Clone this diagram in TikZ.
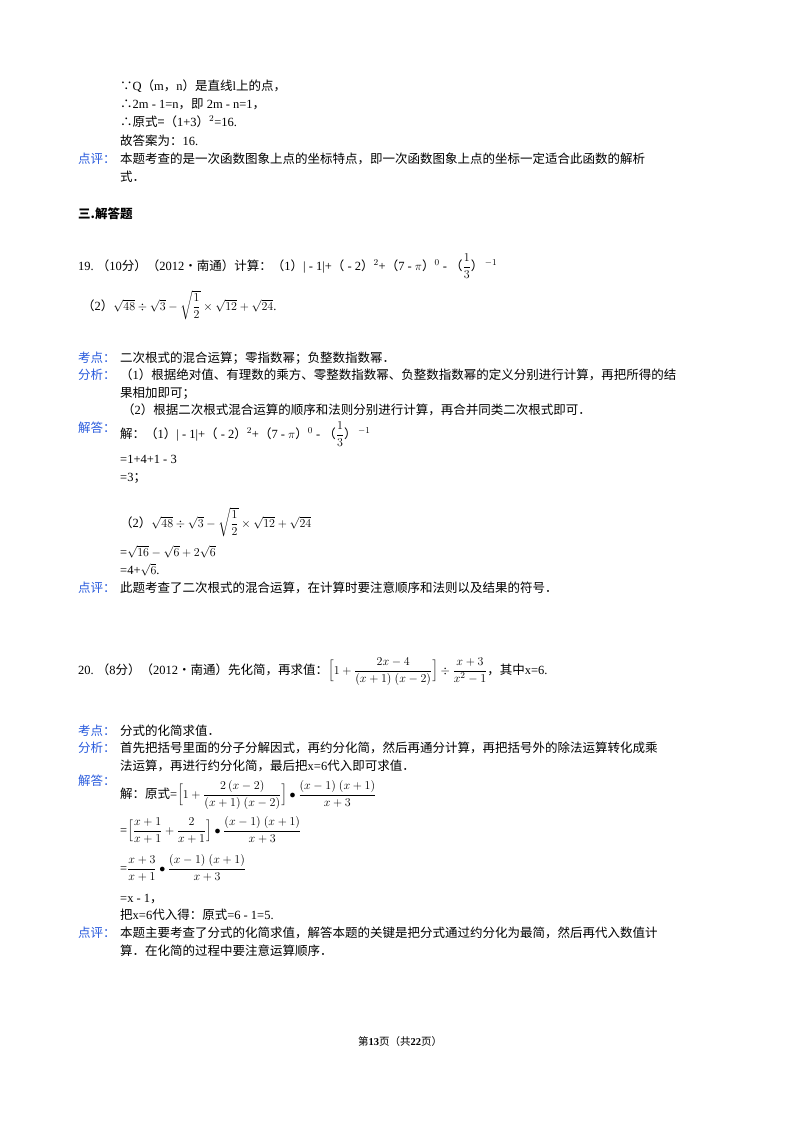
\documentclass[tikz,border=0pt]{standalone}
\usepackage{fontspec}
\usepackage{amsmath}
\setmainfont{Liberation Serif}
\newfontfamily\cjk{Noto Sans CJK SC}
\definecolor{lab}{RGB}{40,90,220}
\tikzset{t/.style={anchor=base west,inner sep=0pt,font=\fontsize{12.5}{14}\selectfont},
 lb/.style={t,text=lab}}
\newcommand{\C}[1]{{\cjk #1}}
\begin{document}
\begin{tikzpicture}[x=1pt,y=-1pt]
\useasboundingbox (0,0) rectangle (800,1132);
\node[t] (a1) at (120,90) {\C{∵}Q\C{（}m\C{，}n\C{）是直线}l\C{上的点，}};
\node[t] (a2) at (120,108) {\C{∴}2m - 1=n\C{，即} 2m - n=1\C{，}};
\node[t] (a3) at (120,126) {\C{∴原式=（}1+3\C{）}$^2$=16.};
\node[t] (a4) at (120,145) {\C{故答案为：}16.};
\node[lb] (p1) at (78,163) {\C{点评：}};
\node[t] (p1a) at (120,163) {\C{本题考查的是一次函数图象上点的坐标特点，即一次函数图象上点的坐标一定适合此函数的解析}};
\node[t] (p1b) at (120,181) {\C{式．}};
\node[t,font=\fontsize{12.5}{14}\selectfont\bfseries] (h) at (78,218) {\C{三.解答题}};
\node[t] (q19) at (78,270) {19.\ \C{（}10\C{分）（}2012\C{•南通）计算：（}1\C{）}| - 1|+\C{（} - 2\C{）}$^{2}$+\C{（}7 - $\pi$\C{）}$^{0}$ - \C{（}$\dfrac{1}{3}$\C{）}$^{\,-1}$};
\node[t] (q19b) at (82,310) {\C{（}2\C{）}$\sqrt{48}\div\sqrt{3}-\sqrt{\dfrac12}\times\sqrt{12}+\sqrt{24}$.};
\node[lb] (k1) at (78,362) {\C{考点：}};
\node[t] (k1a) at (120,362) {\C{二次根式的混合运算；零指数幂；负整数指数幂．}};
\node[lb] (f1) at (78,379) {\C{分析：}};
\node[t] (f1a) at (120,379) {\C{（}1\C{）根据绝对值、有理数的乘方、零整数指数幂、负整数指数幂的定义分别进行计算，再把所得的结}};
\node[t] (f1b) at (120,397) {\C{果相加即可；}};
\node[t] (f1c) at (122,414) {\C{（}2\C{）根据二次根式混合运算的顺序和法则分别进行计算，再合并同类二次根式即可．}};
\node[lb] (j1) at (78,432) {\C{解答：}};
\node[t] (j1a) at (120,438) {\C{解：（}1\C{）}| - 1|+\C{（} - 2\C{）}$^{2}$+\C{（}7 - $\pi$\C{）}$^{0}$ - \C{（}$\dfrac{1}{3}$\C{）}$^{\,-1}$};
\node[t] (j1b) at (120,463) {=1+4+1 - 3};
\node[t] (j1c) at (120,481) {=3\C{；}};
\node[t] (j1d) at (120,527) {\C{（}2\C{）}$\sqrt{48}\div\sqrt{3}-\sqrt{\dfrac12}\times\sqrt{12}+\sqrt{24}$};
\node[t] (j1e) at (120,556) {=$\sqrt{16}-\sqrt{6}+2\sqrt{6}$};
\node[t] (j1f) at (120,574) {=4+$\sqrt{6}$.};
\node[lb] (p2) at (78,592) {\C{点评：}};
\node[t] (p2a) at (120,592) {\C{此题考查了二次根式的混合运算，在计算时要注意顺序和法则以及结果的符号．}};
\node[t] (q20) at (78,674) {20.\ \C{（}8\C{分）（}2012\C{•南通）先化简，再求值：}$\Bigl[1+\dfrac{2x-4}{(x+1)\ (x-2)}\Bigr]\div\dfrac{x+3}{x^{2}-1}$\C{，其中}x=6.};
\node[lb] (k2) at (78,735) {\C{考点：}};
\node[t] (k2a) at (120,735) {\C{分式的化简求值．}};
\node[lb] (f2) at (78,752) {\C{分析：}};
\node[t] (f2a) at (120,752) {\C{首先把括号里面的分子分解因式，再约分化简，然后再通分计算，再把括号外的除法运算转化成乘}};
\node[t] (f2b) at (120,770) {\C{法运算，再进行约分化简，最后把}x=6\C{代入即可求值．}};
\node[lb] (j2) at (78,785) {\C{解答：}};
\node[t] (j2a) at (120,798) {\C{解：原式}=$\Bigl[1+\dfrac{2\,(x-2)}{(x+1)\ (x-2)}\Bigr]\bullet\dfrac{(x-1)\ (x+1)}{x+3}$};
\node[t] (j2b) at (120,834) {=$\Bigl[\dfrac{x+1}{x+1}+\dfrac{2}{x+1}\Bigr]\bullet\dfrac{(x-1)\ (x+1)}{x+3}$};
\node[t] (j2c) at (120,872) {=$\dfrac{x+3}{x+1}\bullet\dfrac{(x-1)\ (x+1)}{x+3}$};
\node[t] (j2d) at (120,902) {=x - 1\C{，}};
\node[t] (j2e) at (120,919) {\C{把}x=6\C{代入得：原式}=6 - 1=5.};
\node[lb] (p3) at (78,937) {\C{点评：}};
\node[t] (p3a) at (120,937) {\C{本题主要考查了分式的化简求值，解答本题的关键是把分式通过约分化为最简，然后再代入数值计}};
\node[t] (p3b) at (120,955) {\C{算．在化简的过程中要注意运算顺序．}};
\node[anchor=base,inner sep=0pt,font=\fontsize{10.5}{12}\selectfont] (ft) at (400,1045) {\C{第}\textbf{13}\C{页（共}\textbf{22}\C{页）}};
\end{tikzpicture}
\end{document}
